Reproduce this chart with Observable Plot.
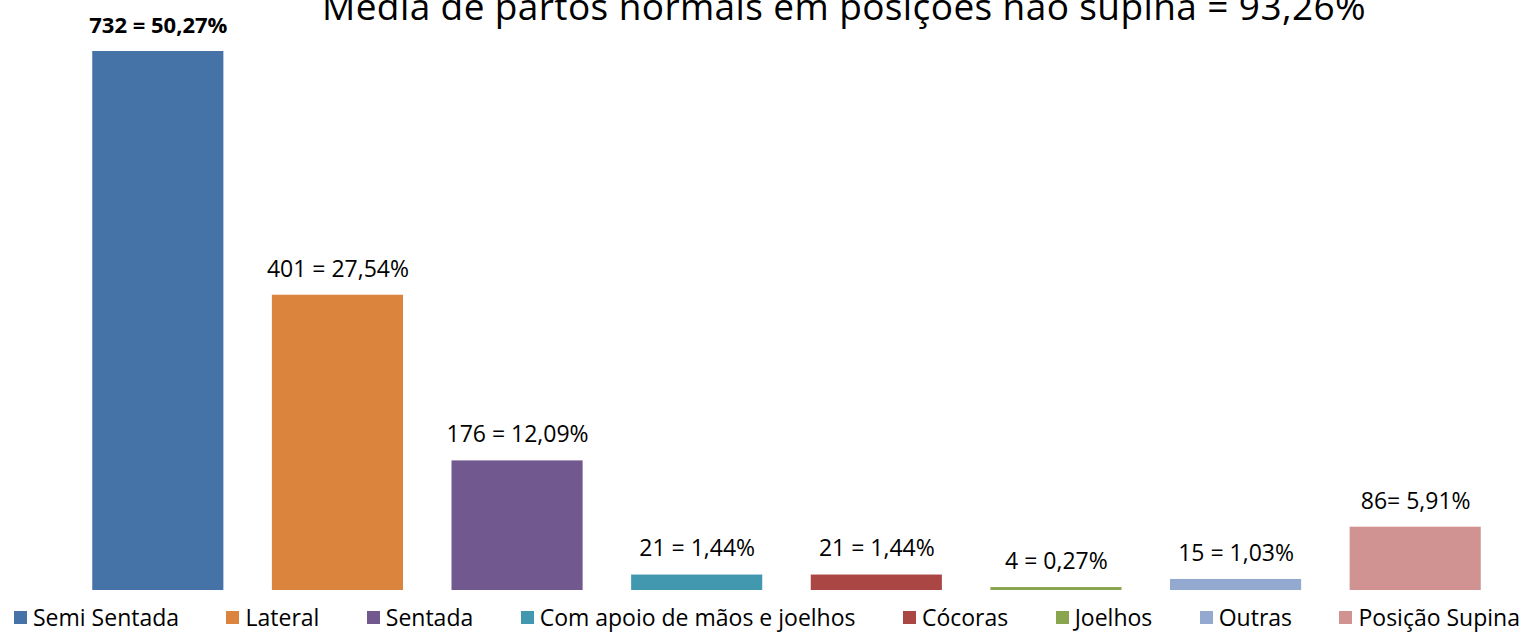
<!DOCTYPE html>
<html><head><meta charset="utf-8">
<script src="https://cdn.jsdelivr.net/npm/d3@7"></script>
<script src="https://cdn.jsdelivr.net/npm/@observablehq/plot@0.6"></script>
<style>
html,body{margin:0;padding:0;background:#fff;overflow:hidden;}
#wrap{position:relative;width:1523px;height:633px;font-family:"Open Sans",sans-serif;}
#title{position:absolute;left:322px;top:-19px;font-size:37px;line-height:1.36;color:#000;white-space:nowrap;letter-spacing:0.4px;}
#chart{position:absolute;left:0;top:0;}
#legend{position:absolute;left:14px;right:3px;top:604px;line-height:1.2;display:flex;justify-content:space-between;font-size:23px;color:#000;white-space:nowrap;}
#legend span.item{display:flex;align-items:center;}
#legend span.sw{display:inline-block;width:13px;height:13px;margin-right:6px;}
</style></head>
<body><div id="wrap"><div id="chart"></div><div id="title"></div><div id="legend"></div></div>
<script>
const titleText = "Média de partos normais em posições não supina = 93,26%";
const categories = ["Semi Sentada","Lateral","Sentada","Com apoio de mãos e joelhos","Cócoras","Joelhos","Outras","Posição Supina"];
const counts = [732, 401, 176, 21, 21, 4, 15, 86];
const labels = ["732 = 50,27%","401 = 27,54%","176 = 12,09%","21 = 1,44%","21 = 1,44%","4 = 0,27%","15 = 1,03%","86= 5,91%"];
const colors = ["#4572A7","#DB843D","#71588F","#4198AF","#AA4643","#89A54E","#93A9CF","#D19392"];

const data = categories.map((c,i)=>({cat:c, v:counts[i], label:labels[i], bold:i===0}));

const chart = Plot.plot({
  width:1523, height:600,
  marginLeft:68, marginRight:18, marginTop:51, marginBottom:10,
  style:{fontFamily:"'Open Sans',sans-serif", background:"transparent"},
  x:{domain:categories, paddingInner:0.27, paddingOuter:0.135, round:false, axis:null},
  y:{domain:[0,732], axis:null},
  color:{domain:categories, range:colors},
  marks:[
    Plot.barY(data,{x:"cat", y:"v", fill:"cat"}),
    Plot.text(data.filter(d=>!d.bold),{x:"cat", y:"v", text:"label", dy:-26, fontSize:23, fill:"#000"}),
    Plot.text(data.filter(d=>d.bold),{x:"cat", y:"v", text:"label", dy:-26, fontSize:22, fontWeight:"bold", fill:"#000"})
  ]
});
document.getElementById("chart").appendChild(chart);
document.getElementById("title").textContent = titleText;
const leg = document.getElementById("legend");
categories.forEach((c,i)=>{
  const it=document.createElement("span"); it.className="item";
  const sw=document.createElement("span"); sw.className="sw"; sw.style.background=colors[i];
  it.appendChild(sw); it.appendChild(document.createTextNode(c)); leg.appendChild(it);
});
</script></body></html>
